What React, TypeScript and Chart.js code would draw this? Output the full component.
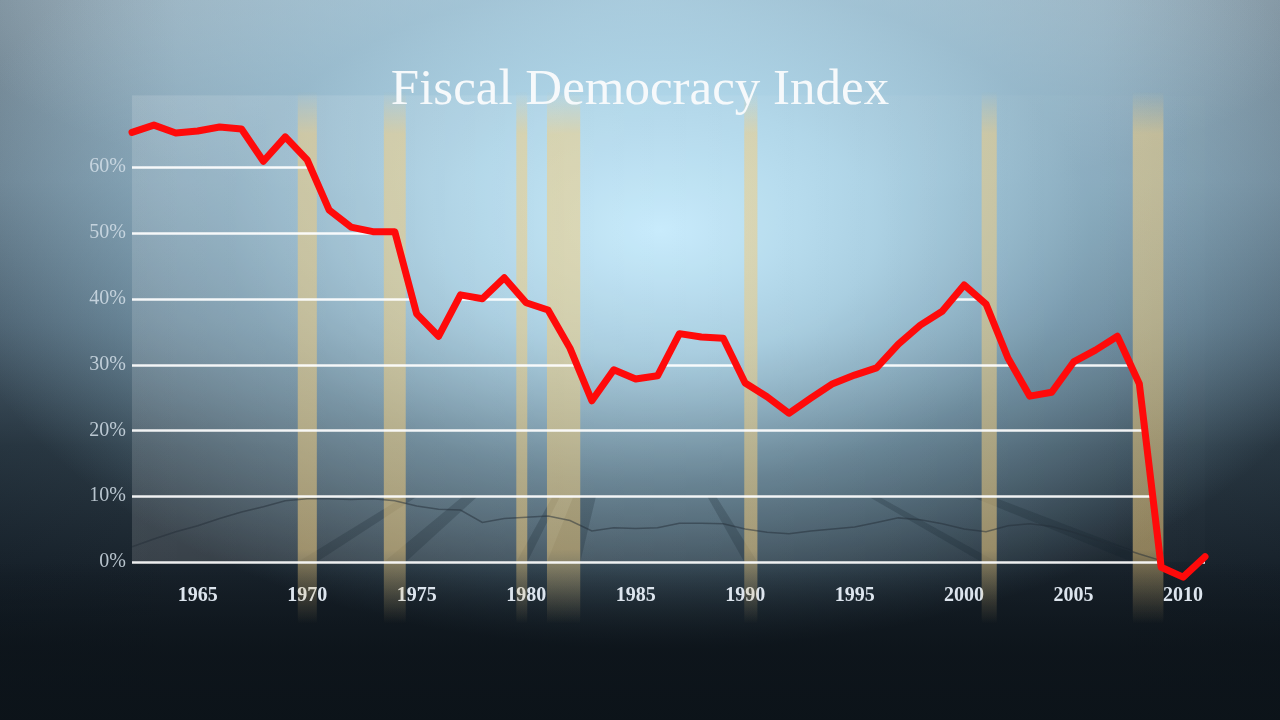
import { useEffect, useRef } from "react";
import { Chart, registerables } from "chart.js";

Chart.register(...registerables);

// Fiscal Democracy Index, share of revenue free of prior commitments (%)
const years = [
  1962, 1963, 1964, 1965, 1966, 1967, 1968, 1969, 1970, 1971,
  1972, 1973, 1974, 1975, 1976, 1977, 1978, 1979, 1980, 1981,
  1982, 1983, 1984, 1985, 1986, 1987, 1988, 1989, 1990, 1991,
  1992, 1993, 1994, 1995, 1996, 1997, 1998, 1999, 2000, 2001,
  2002, 2003, 2004, 2005, 2006, 2007, 2008, 2009, 2010, 2011,
];
const fdiValues = [
  65.3, 66.4, 65.2, 65.5, 66.1, 65.8, 60.9, 64.6, 61.1, 53.5,
  50.9, 50.2, 50.2, 37.7, 34.3, 40.6, 40.0, 43.2, 39.4, 38.3,
  32.5, 24.5, 29.2, 27.8, 28.3, 34.7, 34.2, 34.0, 27.2, 25.1,
  22.6, 24.9, 27.1, 28.4, 29.5, 33.1, 36.0, 38.1, 42.1, 39.2,
  31.0, 25.2, 25.8, 30.4, 32.2, 34.3, 27.1, -0.8, -2.3, 0.8,
];
// faint reflection of the line on the "floor"
const reflectionValues = [
  2.3, 3.5, 4.6, 5.5, 6.6, 7.6, 8.4, 9.3, 9.6, 9.6,
  9.5, 9.6, 9.3, 8.5, 8.0, 7.9, 6.0, 6.6, 6.8, 7.0,
  6.3, 4.7, 5.2, 5.1, 5.2, 5.9, 5.9, 5.8, 5.0, 4.5,
  4.3, 4.7, 5.0, 5.3, 6.0, 6.7, 6.4, 5.8, 5.0, 4.6,
  5.5, 5.8, 5.4, 4.5, 3.4, 2.3, 1.2, 0.2, null, null,
];

// recessions (fractional years)
const recessionStart = [1969.57, 1973.5, 1979.55, 1980.95, 1989.96, 2000.8, 2007.7];
const recessionEnd = [1970.44, 1974.5, 1980.05, 1982.47, 1990.56, 2001.49, 2009.1];

const xTickYears = [1965, 1970, 1975, 1980, 1985, 1990, 1995, 2000, 2005, 2010];
const yTickValues = [0, 10, 20, 30, 40, 50, 60];

const TITLE = "Fiscal Democracy Index";
const SERIF = "'Liberation Serif', 'DejaVu Serif', serif";

const backdrop = {
  id: "backdrop",
  beforeDatasetsDraw(chart: any) {
    const { ctx, chartArea, scales } = chart;
    const x = scales.x;
    const y = scales.y;
    const zeroY = y.getPixelForValue(0);
    const floorY = y.getPixelForValue(10);
    ctx.save();

    // lighter plot panel, strongest on the left
    const panelTop = chartArea.top - 6;
    const pg = ctx.createLinearGradient(chartArea.left, 0, chartArea.right, 0);
    pg.addColorStop(0, "rgba(255,255,255,0.14)");
    pg.addColorStop(0.5, "rgba(255,255,255,0.07)");
    pg.addColorStop(1, "rgba(255,255,255,0.01)");
    ctx.fillStyle = pg;
    ctx.fillRect(chartArea.left, panelTop, chartArea.right - chartArea.left, zeroY - panelTop);

    // recession shadows on the floor, toward a vanishing point
    const vpX = x.getPixelForValue(1984.7);
    const vpY = y.getPixelForValue(31);
    const k = (zeroY - floorY) / (zeroY - vpY);
    ctx.fillStyle = "rgba(20,30,40,0.22)";
    recessionStart.forEach((s, i) => {
      const xs = x.getPixelForValue(s);
      const xe = x.getPixelForValue(recessionEnd[i]);
      ctx.beginPath();
      ctx.moveTo(xs, zeroY);
      ctx.lineTo(xe, zeroY);
      ctx.lineTo(xe + (vpX - xe) * k, floorY);
      ctx.lineTo(xs + (vpX - xs) * k, floorY);
      ctx.closePath();
      ctx.fill();
    });

    // recession bands
    const top = chartArea.top - 10;
    const bottom = zeroY + 62;
    const g = ctx.createLinearGradient(0, top, 0, bottom);
    g.addColorStop(0, "rgba(240,205,130,0)");
    g.addColorStop(0.08, "rgba(240,205,130,0.55)");
    g.addColorStop(0.86, "rgba(235,200,125,0.55)");
    g.addColorStop(1, "rgba(220,185,115,0)");
    ctx.fillStyle = g;
    recessionStart.forEach((s, i) => {
      const xs = x.getPixelForValue(s);
      const xe = x.getPixelForValue(recessionEnd[i]);
      ctx.fillRect(xs, top, xe - xs, bottom - top);
    });

    // grid lines, only visible under the curve
    const pts = chart.getDatasetMeta(0).data;
    ctx.beginPath();
    ctx.moveTo(pts[0].x, pts[0].y);
    pts.forEach((p: any) => ctx.lineTo(p.x, p.y));
    ctx.lineTo(pts[pts.length - 1].x, chart.height);
    ctx.lineTo(pts[0].x, chart.height);
    ctx.closePath();
    ctx.clip();
    ctx.strokeStyle = "rgba(255,255,255,0.92)";
    ctx.lineWidth = 2.5;
    yTickValues.forEach((v) => {
      const py = Math.round(y.getPixelForValue(v)) + 0.5;
      ctx.beginPath();
      ctx.moveTo(chartArea.left, py);
      ctx.lineTo(chartArea.right, py);
      ctx.stroke();
    });
    ctx.restore();
  },
  afterDraw(chart: any) {
    const { ctx } = chart;
    ctx.save();
    ctx.font = `51px ${SERIF}`;
    ctx.fillStyle = "#f6f9fb";
    ctx.textAlign = "center";
    ctx.textBaseline = "alphabetic";
    ctx.fillText(TITLE, chart.width / 2, 104);
    ctx.restore();
  },
};

export default function App() {
  const canvasRef = useRef<HTMLCanvasElement>(null);
  const chartRef = useRef<Chart | null>(null);

  useEffect(() => {
    const canvas = canvasRef.current;
    if (!canvas) return;
    chartRef.current?.destroy();

    chartRef.current = new Chart(canvas, {
      type: "line",
      data: {
        datasets: [
          {
            label: "Fiscal Democracy Index",
            data: years.map((yr, i) => ({ x: yr, y: fdiValues[i] })),
            borderColor: "#ff0a0a",
            borderWidth: 7,
            borderJoinStyle: "round",
            borderCapStyle: "round",
            pointRadius: 0,
            tension: 0,
            clip: false,
          },
          {
            label: "reflection",
            data: years.map((yr, i) => ({ x: yr, y: reflectionValues[i] })),
            borderColor: "rgba(35,45,55,0.5)",
            borderWidth: 1.5,
            pointRadius: 0,
            tension: 0,
            spanGaps: false,
          },
        ],
      },
      options: {
        responsive: false,
        animation: false,
        events: [],
        layout: { padding: { top: 101.4, right: 75, bottom: 0, left: 0 } },
        plugins: {
          legend: { display: false },
          tooltip: { enabled: false },
          title: { display: false },
        },
        scales: {
          x: {
            type: "linear",
            min: 1962,
            max: 2011,
            grid: { display: false },
            border: { display: false },
            afterBuildTicks: (scale: any) => {
              scale.ticks = xTickYears.map((v) => ({ value: v }));
            },
            afterFit: (scale: any) => {
              scale.height = 138.3;
            },
            ticks: {
              color: "#dde5ee",
              padding: -6,
              autoSkip: false,
              maxRotation: 0,
              font: { family: SERIF, size: 20, weight: "bold", lineHeight: 1.2 },
              callback: (v: any) => String(v),
            },
          },
          y: {
            type: "linear",
            min: -3,
            max: 70,
            grid: { display: false },
            border: { display: false },
            afterBuildTicks: (scale: any) => {
              scale.ticks = yTickValues.map((v) => ({ value: v }));
            },
            afterFit: (scale: any) => {
              scale.width = 132;
            },
            ticks: {
              color: "rgba(210,222,232,0.85)",
              padding: -2,
              font: { family: SERIF, size: 20 },
              callback: (v: any) => `${v}%`,
            },
          },
        },
      },
      plugins: [backdrop],
    });

    return () => {
      chartRef.current?.destroy();
      chartRef.current = null;
    };
  }, []);

  return (
    <div
      style={{
        position: "fixed",
        left: 0,
        top: 0,
        width: 1280,
        height: 720,
        background:
          "linear-gradient(180deg, rgba(12,19,25,0) 0%, rgba(12,19,25,0) 78%, rgba(12,19,25,0.75) 90%, rgba(12,19,25,0.85) 100%), " +
          "radial-gradient(ellipse 720px 420px at 660px 230px, rgba(196,234,252,1) 0%, rgba(178,220,240,0.85) 30%, rgba(150,195,218,0.5) 60%, rgba(120,160,185,0) 100%), " +
          "radial-gradient(ellipse 700px 220px at 640px 0px, rgba(200,222,234,0.7) 0%, rgba(200,222,234,0) 100%), " +
          "linear-gradient(90deg, rgba(10,20,30,0.15) 0%, rgba(10,20,30,0) 14%, rgba(10,20,30,0) 86%, rgba(10,20,30,0.12) 100%), " +
          "linear-gradient(180deg, #92a7b4 0%, #7d95a5 25%, #566c7c 45%, #2c3b46 62%, #18222b 80%, #0e151b 100%)",
      }}
    >
      <canvas ref={canvasRef} width={1280} height={720} style={{ display: "block" }} aria-label="Fiscal Democracy Index chart" />
    </div>
  );
}
